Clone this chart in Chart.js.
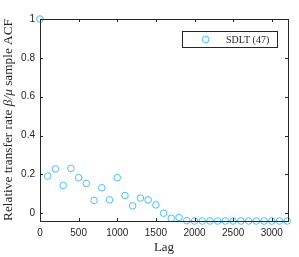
<!DOCTYPE html>
<html>
<head>
<meta charset="utf-8">
<script src="https://cdn.jsdelivr.net/npm/chart.js@4.4.0/dist/chart.umd.min.js"></script>
<style>
  html, body { margin: 0; padding: 0; background: #fff; }
  #wrap { width: 299px; height: 257px; }
</style>
</head>
<body>
<div id="wrap"><canvas id="acf" width="299" height="257"></canvas></div>
<script>
// lag (every 100) and sample ACF values
var lags = [0, 100, 200, 300, 400, 500, 600, 700, 800, 900, 1000, 1100, 1200, 1300, 1400, 1500, 1600,
            1700, 1800, 1900, 2000, 2100, 2200, 2300, 2400, 2500, 2600, 2700, 2800, 2900, 3000, 3100, 3200];
var acf = [1, 0.191, 0.228, 0.143, 0.231, 0.183, 0.153, 0.066, 0.131, 0.069, 0.183, 0.091, 0.038, 0.078, 0.069, 0.043, 0.0,
           -0.026, -0.022, -0.038, -0.04, -0.04, -0.04, -0.04, -0.04, -0.04, -0.04, -0.04, -0.04, -0.04, -0.04, -0.04, -0.04];
var xTicks = [0, 500, 1000, 1500, 2000, 2500, 3000];
var yTicks = [0, 0.2, 0.4, 0.6, 0.8, 1];
var seriesLabel = "SDLT (47)";

var markerColor = "#4DBEEE";
var axisColor = "#262626";

var points = lags.map(function(l, i) { return { x: l, y: acf[i] }; });

// box, inner tick marks, axis titles and legend
var decorations = {
    id: "decorations",
    afterDraw: function(chart) {
        var ctx = chart.ctx;
        var a = chart.chartArea;
        var xs = chart.scales.x, ys = chart.scales.y;
        ctx.save();
        ctx.strokeStyle = axisColor;
        ctx.lineWidth = 1;
        ctx.strokeRect(Math.round(a.left) + 0.5, Math.round(a.top) + 0.5,
                       Math.round(a.right - a.left), Math.round(a.bottom - a.top));
        ctx.beginPath();
        xTicks.forEach(function(v) {
            var px = Math.round(xs.getPixelForValue(v)) + 0.5;
            ctx.moveTo(px, a.bottom); ctx.lineTo(px, a.bottom - 3);
            ctx.moveTo(px, a.top); ctx.lineTo(px, a.top + 3);
        });
        yTicks.forEach(function(v) {
            var py = Math.round(ys.getPixelForValue(v)) + 0.5;
            ctx.moveTo(a.left, py); ctx.lineTo(a.left + 3, py);
            ctx.moveTo(a.right, py); ctx.lineTo(a.right - 3, py);
        });
        ctx.stroke();

        // x title
        ctx.fillStyle = axisColor;
        ctx.font = "13px 'Liberation Serif'";
        ctx.textAlign = "center";
        ctx.textBaseline = "middle";
        ctx.fillText("Lag", (a.left + a.right) / 2, 248);

        // y title with italic part
        var parts = [["Relative transfer rate ", ""], ["\u03b2/\u03bc", "italic "], [" sample ACF", ""]];
        var total = 0;
        parts.forEach(function(p) {
            ctx.font = p[1] + "13.3px 'Liberation Serif'";
            p.push(ctx.measureText(p[0]).width);
            total += p[2];
        });
        ctx.translate(9, 120);
        ctx.rotate(-Math.PI / 2);
        ctx.textAlign = "left";
        var cx = -total / 2;
        parts.forEach(function(p) {
            ctx.font = p[1] + "13.3px 'Liberation Serif'";
            ctx.fillText(p[0], cx, 0);
            cx += p[2];
        });
        ctx.restore();

        // legend
        ctx.save();
        ctx.fillStyle = "#fff";
        ctx.fillRect(182, 31, 96, 17);
        ctx.strokeStyle = axisColor;
        ctx.lineWidth = 1;
        ctx.strokeRect(182.5, 31.5, 95, 16);
        ctx.strokeStyle = markerColor;
        ctx.beginPath();
        ctx.arc(205.7, 39.5, 3.3, 0, Math.PI * 2);
        ctx.stroke();
        ctx.fillStyle = axisColor;
        ctx.font = "10px 'Liberation Serif'";
        ctx.textAlign = "left";
        ctx.textBaseline = "middle";
        ctx.fillText(seriesLabel, 226, 40);
        ctx.restore();
    }
};

new Chart(document.getElementById("acf").getContext("2d"), {
    type: "scatter",
    data: {
        datasets: [{
            label: seriesLabel,
            data: points,
            pointStyle: "circle",
            pointRadius: 3.3,
            pointHoverRadius: 3.3,
            borderWidth: 1,
            borderColor: markerColor,
            backgroundColor: "rgba(0,0,0,0)",
            clip: false
        }]
    },
    options: {
        responsive: false,
        animation: false,
        events: [],
        layout: { padding: { left: 0, top: 19, right: 11, bottom: 0 } },
        plugins: { legend: { display: false }, tooltip: { enabled: false } },
        scales: {
            x: {
                type: "linear",
                min: 0,
                max: 3210,
                afterFit: function(s) { s.height = 36; },
                afterBuildTicks: function(s) { s.ticks = xTicks.map(function(v) { return { value: v }; }); },
                grid: { display: false, drawTicks: false },
                border: { display: false },
                ticks: {
                    color: axisColor, font: { family: "'Liberation Sans'", size: 10 }, padding: 6, maxRotation: 0,
                    callback: function(v) { return String(v); }
                }
            },
            y: {
                type: "linear",
                min: -0.04,
                max: 1,
                afterFit: function(s) { s.width = 40; },
                afterBuildTicks: function(s) { s.ticks = yTicks.map(function(v) { return { value: v }; }); },
                grid: { display: false, drawTicks: false },
                border: { display: false },
                ticks: {
                    color: axisColor, font: { family: "'Liberation Sans'", size: 10 }, padding: 5,
                    callback: function(v) { return String(v); }
                }
            }
        }
    },
    plugins: [decorations]
});
</script>
</body>
</html>
